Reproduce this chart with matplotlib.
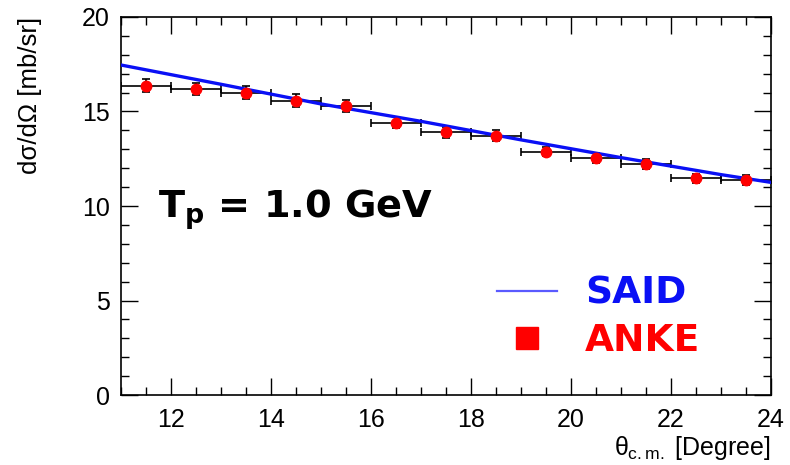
import matplotlib
matplotlib.use("Agg")
import matplotlib.pyplot as plt
from matplotlib.ticker import MultipleLocator
from matplotlib.lines import Line2D

plt.rcParams['font.family'] = ['Liberation Sans', 'DejaVu Sans']
plt.rcParams['mathtext.fontset'] = 'custom'
plt.rcParams['mathtext.rm'] = 'Liberation Sans'
plt.rcParams['mathtext.it'] = 'Liberation Sans'
plt.rcParams['mathtext.bf'] = 'DejaVu Sans:bold'

# ANKE data
anke_theta = [11.5, 12.5, 13.5, 14.5, 15.5, 16.5, 17.5, 18.5, 19.5, 20.5, 21.5, 22.5, 23.5]
anke_xs = [16.37, 16.2, 16.0, 15.57, 15.29, 14.41, 13.9, 13.72, 12.87, 12.52, 12.22, 11.46, 11.38]
anke_yerr = [0.35, 0.33, 0.35, 0.35, 0.33, 0.3, 0.3, 0.28, 0.25, 0.27, 0.27, 0.25, 0.25]
anke_xerr = [0.5] * len(anke_theta)

# SAID curve
said_theta = [11, 13, 15, 17, 19, 21, 23, 24]
said_xs = [17.46, 16.44, 15.4, 14.48, 13.5, 12.56, 11.66, 11.25]

fig = plt.figure(figsize=(7.9, 4.65), dpi=100)
ax = fig.add_axes([121/790, 1-395/465, 650/790, 378/465])

ax.plot(said_theta, said_xs, color='#0a10f5', lw=2.4, zorder=3)
ax.errorbar(anke_theta, anke_xs, xerr=anke_xerr, yerr=anke_yerr, fmt='none',
            ecolor='black', elinewidth=1.2, capsize=3, capthick=1.2, zorder=2)
ax.plot(anke_theta, anke_xs, 'o', color='red', ms=7.5, zorder=4)

ax.set_xlim(11, 24)
ax.set_ylim(0, 20)
ax.xaxis.set_major_locator(MultipleLocator(2))
ax.xaxis.set_minor_locator(MultipleLocator(0.5))
ax.yaxis.set_major_locator(MultipleLocator(5))
ax.yaxis.set_minor_locator(MultipleLocator(1))
ax.tick_params(which='both', direction='in', top=True, right=True, labelsize=18)
ax.tick_params(axis='x', which='both', pad=9)
ax.tick_params(axis='y', which='both', pad=8)
ax.tick_params(which='major', length=12, width=1)
ax.tick_params(which='minor', length=6, width=1)
for s in ax.spines.values():
    s.set_linewidth(1.2)

ax.set_ylabel('dσ/dΩ [mb/sr]', fontsize=18.5, loc='top')
ax.yaxis.set_label_coords(-0.122, 1.0)
fig.text(770/790, 1-455/465, r'$\theta_{c.m.}$ [Degree]', fontsize=18, ha='right', va='baseline')

ax.text(0.057, (395-218)/378, r'$\mathbf{T_p}$ = 1.0 GeV', fontsize=27.5, fontweight='bold',
        family='DejaVu Sans', va='baseline', ha='left', transform=ax.transAxes)

# legend
h_said = Line2D([], [], color='#5a5aff', lw=1.6)
h_anke = Line2D([], [], marker='s', color='red', ls='none', ms=16)
leg = fig.legend([h_said, h_anke], ['SAID', 'ANKE'], loc='upper left',
                 bbox_to_anchor=(497/790, 1-276/465), frameon=False,
                 prop={'family': 'DejaVu Sans', 'weight': 'bold', 'size': 27},
                 handlelength=1.6, labelspacing=0.3, handletextpad=0.75,
                 borderpad=0, borderaxespad=0)
leg.get_texts()[0].set_color('#0a10f5')
leg.get_texts()[1].set_color('red')

fig.savefig('out.png', dpi=100)
